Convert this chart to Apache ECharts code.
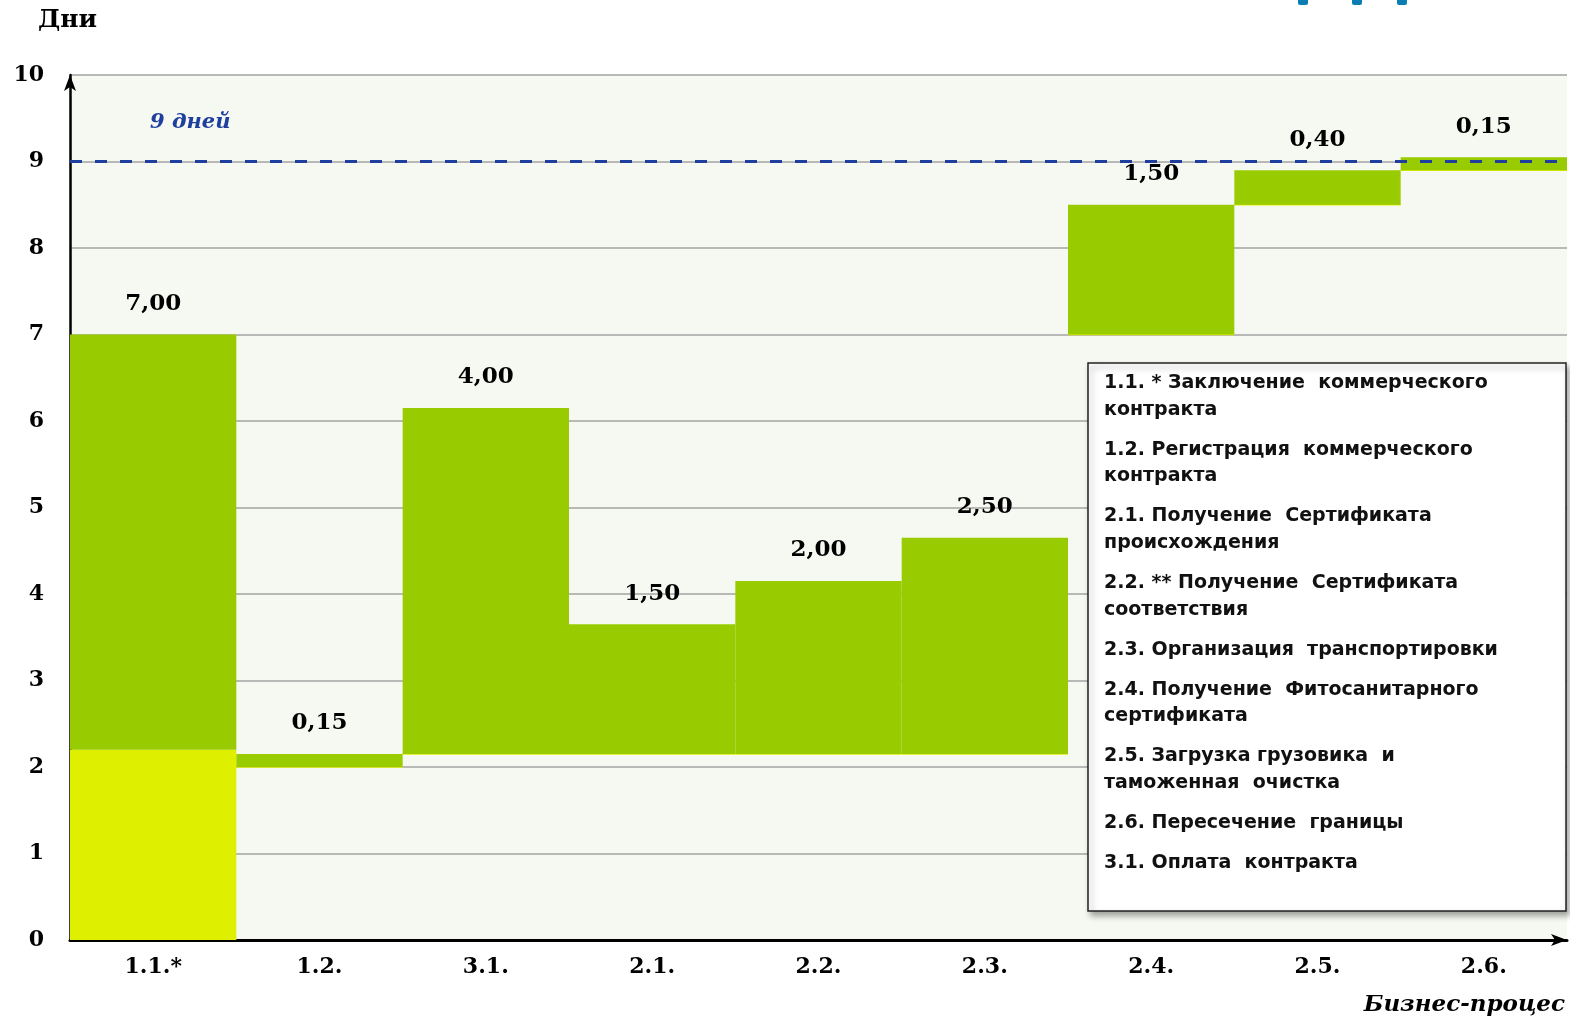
<!DOCTYPE html>
<html>
<head>
<meta charset="utf-8">
<title>Бизнес-процессы</title>
<script src="https://cdn.jsdelivr.net/npm/echarts@6.0.0/dist/echarts.min.js"></script>
<style>
  html, body { margin: 0; padding: 0; background: #fff; }
  #chart { width: 1570px; height: 1024px; }
</style>
</head>
<body>
<div id="chart"></div>
<script>
// категории (этапы бизнес-процесса)
const categories = ['1.1.*', '1.2.', '3.1.', '2.1.', '2.2.', '2.3.', '2.4.', '2.5.', '2.6.']
// длительность этапа, дни
const durations = [7.00, 0.15, 4.00, 1.50, 2.00, 2.50, 1.50, 0.40, 0.15]
// день начала этапа (невидимая подставка)
const offsets = [0, 2.00, 2.15, 2.15, 2.15, 2.15, 7.00, 8.50, 8.90]
// светлая (жёлтая) часть первого этапа
const firstPart = [2.2, 0, 0, 0, 0, 0, 0, 0, 0]
// ось Y
const yMin = 0
const yMax = 10
const yStep = 1
// норматив
const limitDays = 9
const limitText = '9 дней'
// пояснения к этапам
const legendItems = [
  ['1.1. * Заключение  коммерческого', 'контракта'],
  ['1.2. Регистрация  коммерческого', 'контракта'],
  ['2.1. Получение  Сертификата', 'происхождения'],
  ['2.2. ** Получение  Сертификата', 'соответствия'],
  ['2.3. Организация  транспортировки'],
  ['2.4. Получение  Фитосанитарного', 'сертификата'],
  ['2.5. Загрузка грузовика  и', 'таможенная  очистка'],
  ['2.6. Пересечение  границы'],
  ['3.1. Оплата  контракта']
]

const serif = '"DejaVu Serif", "Liberation Serif", serif'
const greenPart = durations.map((d, i) => +(d - firstPart[i]).toFixed(2))

// текст легенды
const legendEls = []
let ly = 383
legendItems.forEach(lines => {
  lines.forEach((line, k) => {
    legendEls.push({
      type: 'text',
      x: 1104,
      y: ly + k * 26.7,
      z: 101,
      style: {
        text: line,
        font: 'bold 19px "DejaVu Sans", Verdana, sans-serif',
        fill: '#111',
        align: 'left',
        verticalAlign: 'middle',
        textAlign: 'left',
        textVerticalAlign: 'middle'
      }
    })
  })
  ly += lines.length * 26.7 + 13.3
})

const chart = echarts.init(document.getElementById('chart'))
chart.setOption({
  backgroundColor: '#fff',
  animation: false,
  grid: {
    left: 70,
    right: 3,
    top: 75,
    bottom: 84,
    show: true,
    backgroundColor: '#f6f9f1',
    borderWidth: 0
  },
  xAxis: {
    type: 'category',
    data: categories,
    axisTick: {show: false},
    axisLine: {
      show: true,
      symbol: ['none', 'arrow'],
      symbolSize: [9, 16],
      lineStyle: {color: '#000', width: 3}
    },
    axisLabel: {
      margin: 16,
      color: '#000',
      fontFamily: serif,
      fontWeight: 'bold',
      fontSize: 22
    },
    splitLine: {show: false}
  },
  yAxis: {
    type: 'value',
    min: yMin,
    max: yMax,
    interval: yStep,
    axisTick: {show: false},
    axisLine: {
      show: true,
      symbol: ['none', 'arrow'],
      symbolSize: [9, 16],
      lineStyle: {color: '#000', width: 2.5}
    },
    axisLabel: {
      margin: 26,
      color: '#000',
      fontFamily: serif,
      fontWeight: 'bold',
      fontSize: 22
    },
    splitLine: {
      show: true,
      lineStyle: {color: '#a3a3a3', width: 1.5}
    }
  },
  series: [
    {
      name: 'base',
      type: 'bar',
      stack: 'w',
      silent: true,
      barCategoryGap: '0%',
      itemStyle: {color: 'transparent'},
      data: offsets
    },
    {
      name: 'first',
      type: 'bar',
      stack: 'w',
      barCategoryGap: '0%',
      itemStyle: {color: '#dfef00', borderColor: '#dfef00', borderWidth: 1.5},
      data: firstPart
    },
    {
      name: 'stage',
      type: 'bar',
      stack: 'w',
      barCategoryGap: '0%',
      itemStyle: {color: '#99cc00', borderColor: '#99cc00', borderWidth: 1.5},
      label: {
        show: true,
        position: 'top',
        distance: 19,
        color: '#000',
        fontFamily: serif,
        fontWeight: 'bold',
        fontSize: 23,
        formatter: p => durations[p.dataIndex].toFixed(2).replace('.', ',')
      },
      markLine: {
        silent: true,
        symbol: ['none', 'none'],
        label: {show: false},
        lineStyle: {color: '#1f3f9f', width: 3, type: [12, 13]},
        data: [{yAxis: limitDays}]
      },
      data: greenPart
    }
  ],
  graphic: [
    {
      type: 'text',
      x: 38,
      y: 20,
      style: {
        text: 'Дни',
        font: 'bold 25px ' + serif,
        fill: '#000',
        align: 'left',
        verticalAlign: 'middle',
        textAlign: 'left',
        textVerticalAlign: 'middle'
      }
    },
    {
      type: 'text',
      x: 150,
      y: 123,
      z: 50,
      style: {
        text: limitText,
        font: 'italic bold 21px ' + serif,
        fill: '#1f3f9f',
        align: 'left',
        verticalAlign: 'middle',
        textAlign: 'left',
        textVerticalAlign: 'middle'
      }
    },
    {
      type: 'text',
      x: 1565,
      y: 1005,
      style: {
        text: 'Бизнес-процес',
        font: 'italic bold 23px ' + serif,
        fill: '#000',
        align: 'right',
        verticalAlign: 'middle',
        textAlign: 'right',
        textVerticalAlign: 'middle'
      }
    },
    // край логотипа сверху
    {type: 'rect', shape: {x: 1298, y: -4, width: 10, height: 9, r: 2}, style: {fill: '#0b7db5'}},
    {type: 'rect', shape: {x: 1352, y: -4, width: 10, height: 9, r: 2}, style: {fill: '#0b7db5'}},
    {type: 'rect', shape: {x: 1397, y: -4, width: 10, height: 9, r: 2}, style: {fill: '#0b7db5'}},
    // рамка легенды
    {
      type: 'rect',
      z: 100,
      shape: {x: 1088, y: 363, width: 478, height: 548},
      style: {
        fill: '#fff',
        stroke: '#222',
        lineWidth: 1.5,
        shadowBlur: 6,
        shadowOffsetX: 3,
        shadowOffsetY: 4,
        shadowColor: 'rgba(0,0,0,0.35)'
      }
    }
  ].concat(legendEls)
})
</script>
</body>
</html>
